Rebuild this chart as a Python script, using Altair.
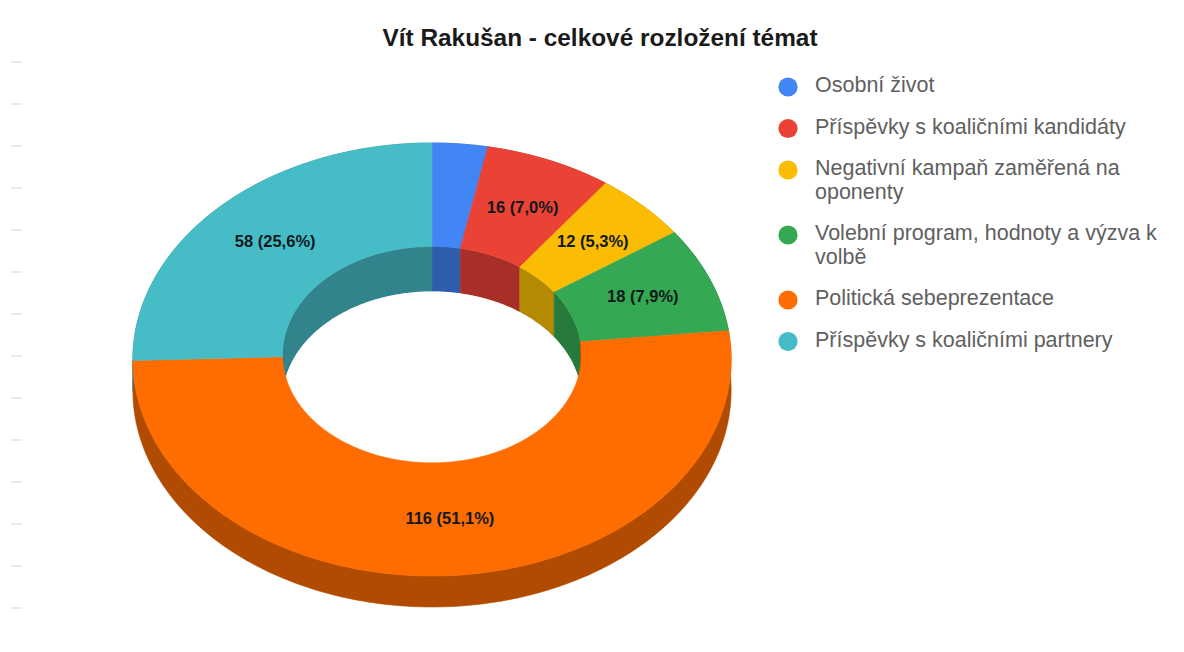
import math
import altair as alt

# ---- chart content -------------------------------------------------------
title = "Vít Rakušan - celkové rozložení témat"
categories = [
    "Osobní život",
    "Příspěvky s koaličními kandidáty",
    "Negativní kampaň zaměřená na oponenty",
    "Volební program, hodnoty a výzva k volbě",
    "Politická sebeprezentace",
    "Příspěvky s koaličními partnery",
]
legend_lines = [
    ["Osobní život"],
    ["Příspěvky s koaličními kandidáty"],
    ["Negativní kampaň zaměřená na", "oponenty"],
    ["Volební program, hodnoty a výzva k", "volbě"],
    ["Politická sebeprezentace"],
    ["Příspěvky s koaličními partnery"],
]
values = [7, 16, 12, 18, 116, 58]
slice_labels = [None, "16 (7,0%)", "12 (5,3%)", "18 (7,9%)", "116 (51,1%)", "58 (25,6%)"]
top_colors = ["#4285F4", "#EA4335", "#FBBC04", "#34A853", "#FF6D01", "#46BDC6"]
side_colors = ["#2E5DAB", "#A82F27", "#B58A03", "#257A3C", "#B04B01", "#31838C"]

# ---- view geometry (page pixels) -----------------------------------------
CX, CY, RX, RY, TILT = 432.0, 353.0, 299.0, 216.3, 0.03
HOLE = 0.5
OUTER_DEPTH, INNER_DEPTH = 31.0, 45.0
PAD_TOP, MARGIN = 52, 8


def place(deg, r=1.0, drop=0.0):
    """Point of the tilted disc at a clockwise angle from 12 o'clock."""
    a = math.radians(deg)
    x, y = r * math.sin(a), r * math.cos(a)
    w = 1 + TILT * y
    return [CX + RX * x / w, CY - RY * y / w + drop]


def arc(a0, a1, r=1.0, drop=0.0):
    n = max(2, int(abs(a1 - a0)) + 1)
    return [place(a0 + (a1 - a0) * i / n, r, drop) for i in range(n + 1)]


def feature(ring, cat=""):
    return {
        "type": "Feature",
        "geometry": {"type": "Polygon", "coordinates": [ring + [ring[0]]]},
        "properties": {"cat": cat},
    }


total = sum(values)
edges = [0.0]
for v in values:
    edges.append(edges[-1] + 360.0 * v / total)
spans = list(zip(categories, edges[:-1], edges[1:]))

outer_wall = []
inner_wall = []
top_face = []
for cat, a0, a1 in spans:
    outer_wall.append(feature(arc(a0, a1) + arc(a1, a0, 1.0, OUTER_DEPTH), cat))
    inner_wall.append(feature(arc(a0, a1, HOLE) + arc(a1, a0, HOLE, INNER_DEPTH), cat))
    top_face.append(feature(arc(a0, a1) + arc(a1, a0, HOLE), cat))

hole = [feature(arc(0, 360, HOLE, INNER_DEPTH))]

slice_rows = []
for (cat, a0, a1), text in zip(spans, slice_labels):
    if text:
        px, py = place((a0 + a1) / 2, 0.75)
        slice_rows.append({"px": px + 2, "py": py, "text": text})

# legend rows flow from the number of lines in each entry
LEG_X_DOT, LEG_X_TEXT, LEG_Y0, LEG_STEP, LEG_LINE = 788, 815, 87, 41.5, 23.5
dot_rows, text_rows = [], []
ly = LEG_Y0
for cat, lines in zip(categories, legend_lines):
    dot_rows.append({"px": LEG_X_DOT, "py": ly, "cat": cat})
    for i, line in enumerate(lines):
        text_rows.append({"px": LEG_X_TEXT, "py": ly - 1 + i * LEG_LINE, "text": line})
    ly += LEG_STEP + LEG_LINE * (len(lines) - 1)

# faint sheet-ruling remnants along the left edge of the picture
ruling_rows = list(range(62, 640, 42))
ruling = []
for yy in ruling_rows:
    ruling.append({
        "type": "Feature",
        "geometry": {"type": "LineString", "coordinates": [[11, yy], [22, yy]]},
        "properties": {},
    })


def colored(features, colors):
    enc = alt.Scale(domain=categories, range=colors)
    return alt.Chart(alt.InlineData(values=features)).mark_geoshape(strokeWidth=0.6).encode(
        fill=alt.Fill("properties.cat:N", scale=enc, legend=None),
        stroke=alt.Stroke("properties.cat:N", scale=enc, legend=None),
    )


ruling_layer = alt.Chart(alt.InlineData(values=ruling)).mark_geoshape(
    filled=False, stroke="#dcdcdc", strokeWidth=1.2
)
outer_layer = colored(outer_wall, side_colors)
inner_layer = colored(inner_wall, side_colors)
hole_layer = alt.Chart(alt.InlineData(values=hole)).mark_geoshape(fill="#ffffff", strokeWidth=0)
top_layer = colored(top_face, top_colors)

slice_text = alt.Chart(alt.InlineData(values=slice_rows)).mark_text(
    font="Liberation Sans", fontWeight="bold", fontSize=16.5, color="#10181c", baseline="middle", align="center"
).encode(longitude="px:Q", latitude="py:Q", text="text:N")

legend_dots = alt.Chart(alt.InlineData(values=dot_rows)).mark_circle(size=370, opacity=1).encode(
    longitude="px:Q",
    latitude="py:Q",
    color=alt.Color("cat:N", scale=alt.Scale(domain=categories, range=top_colors), legend=None),
)
legend_text = alt.Chart(alt.InlineData(values=text_rows)).mark_text(
    font="Liberation Sans", fontSize=21.5, color="#606060", baseline="middle", align="left"
).encode(longitude="px:Q", latitude="py:Q", text="text:N")

chart = (
    alt.layer(
        ruling_layer, outer_layer, inner_layer, hole_layer, top_layer,
        slice_text, legend_dots, legend_text,
    )
    .resolve_scale(color="independent", fill="independent", stroke="independent")
    .project(type="identity", scale=1, translate=[-MARGIN, -(MARGIN + PAD_TOP)])
    .properties(
        width=1168,
        height=636 - PAD_TOP,
        padding={"left": 0, "right": 0, "top": PAD_TOP, "bottom": 0},
        autosize=alt.AutoSizeParams(type="none"),
        title=alt.Title(
            title, font="Liberation Sans", fontWeight="bold", fontSize=24.4,
            color="#1a1a1a", anchor="middle", dx=8, offset=9,
        ),
    )
    .configure_view(stroke=None)
)

chart.save("out.html", embed_options={"renderer": "svg", "actions": False})
